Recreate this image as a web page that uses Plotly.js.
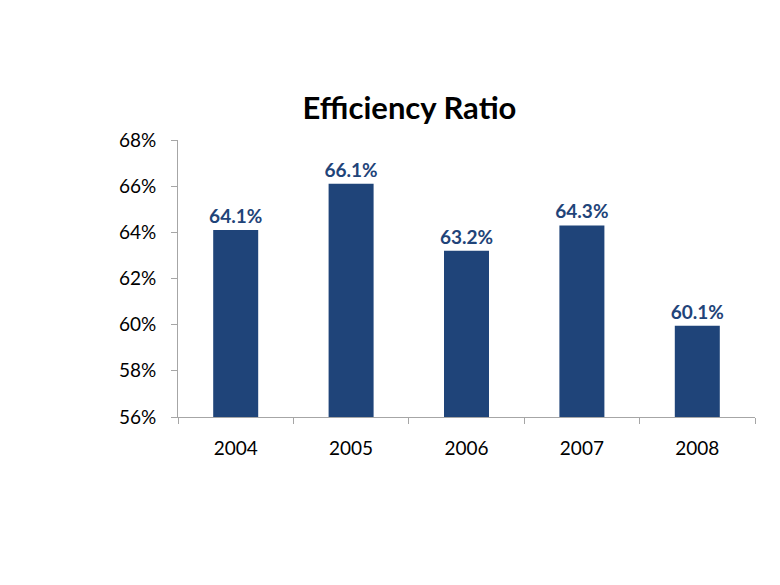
<!DOCTYPE html>
<html>
<head>
<meta charset="utf-8">
<script src="https://cdn.plot.ly/plotly-3.0.1.min.js"></script>
<style>html,body{margin:0;padding:0;background:#fff;}#chart{width:780px;height:585px;}</style>
</head>
<body>
<div id="chart"></div>
<script>
const years = ['2004', '2005', '2006', '2007', '2008'];
const ratios = [64.1, 66.1, 63.2, 64.3, 59.95];
const barLabels = ['64.1%', '66.1%', '63.2%', '64.3%', '60.1%'];
const yTicks = [56, 58, 60, 62, 64, 66, 68];
const yTickText = ['56%', '58%', '60%', '62%', '64%', '66%', '68%'];

const FONT = 'Lato, "Open Sans", sans-serif';

Plotly.newPlot('chart', [{
  type: 'bar',
  x: years,
  y: ratios,
  width: 0.39,
  marker: {color: '#1F4479', line: {width: 0}},
  text: barLabels,
  textposition: 'outside',
  constraintext: 'none',
  cliponaxis: false,
  textfont: {family: FONT, size: 19, color: '#1F4479', weight: 'bold'},
  hoverinfo: 'none'
}], {
  width: 780,
  height: 585,
  margin: {l: 178, r: 25, t: 140, b: 168},
  paper_bgcolor: '#ffffff',
  plot_bgcolor: '#ffffff',
  showlegend: false,
  title: {
    text: '<b>Efficiency Ratio</b>',
    font: {family: FONT, size: 31, color: '#000000'},
    x: 0.525, xanchor: 'center',
    y: 0.815, yanchor: 'middle'
  },
  xaxis: {
    type: 'category',
    showline: true,
    linecolor: '#A6A6A6',
    linewidth: 1,
    ticks: 'outside',
    tickson: 'boundaries',
    ticklen: 6,
    tickcolor: '#A6A6A6',
    showgrid: false,
    zeroline: false,
    ticklabelstandoff: 14,
    tickfont: {family: FONT, size: 19, color: '#000000'}
  },
  yaxis: {
    range: [56, 68],
    tickvals: yTicks,
    ticktext: yTickText,
    showline: true,
    linecolor: '#A6A6A6',
    linewidth: 1,
    ticks: 'outside',
    ticklen: 6,
    tickcolor: '#A6A6A6',
    showgrid: false,
    zeroline: false,
    ticklabelstandoff: 11,
    tickfont: {family: FONT, size: 19, color: '#000000'}
  },
  bargap: 0.61
}, {staticPlot: true, displayModeBar: false});
</script>
</body>
</html>
